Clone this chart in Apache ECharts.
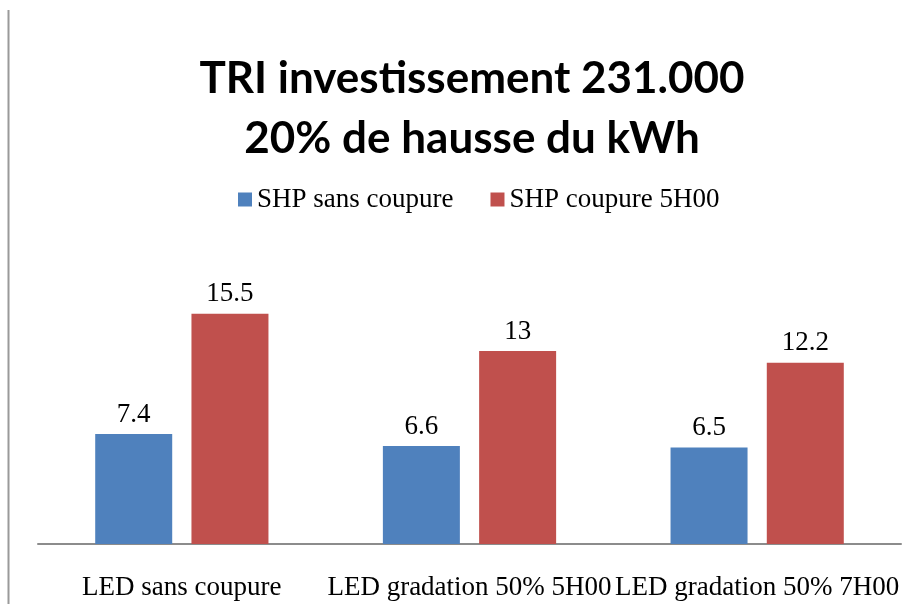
<!DOCTYPE html>
<html>
<head>
<meta charset="utf-8">
<script src="https://cdn.jsdelivr.net/npm/echarts@6/dist/echarts.min.js"></script>
<style>
html,body{margin:0;padding:0;background:#fff;}
#chart{width:918px;height:604px;}
</style>
</head>
<body>
<div id="chart"></div>
<script>
const titleLines = ['TRI investissement 231.000', '20% de hausse du kWh'];
const categories = ['LED sans coupure', 'LED gradation 50% 5H00', 'LED gradation 50% 7H00'];
const seriesNames = ['SHP sans coupure', 'SHP coupure 5H00'];
const shpSansCoupure = [7.4, 6.6, 6.5];
const shpCoupure5H00 = [15.5, 13, 12.2];
const colors = ['#4F81BD', '#C0504D'];

const serif = '"Liberation Serif", "Times New Roman", serif';
const chart = echarts.init(document.getElementById('chart'), null, {renderer: 'canvas'});

const labelStyle = {
  show: true, position: 'top', distance: 6,
  fontFamily: serif, fontSize: 27, color: '#000'
};

chart.setOption({
  animation: false,
  backgroundColor: '#ffffff',
  title: {
    text: titleLines.join('\n'),
    left: 467, top: 44, textAlign: 'center',
    textStyle: {fontFamily: 'Lato, "Open Sans", sans-serif', fontWeight: 'bold', fontSize: 44, lineHeight: 60, color: '#000'}
  },
  legend: {
    data: seriesNames,
    left: 233, top: 181,
    itemWidth: 14, itemHeight: 14, itemGap: 37,
    icon: 'rect',
    textStyle: {fontFamily: serif, fontSize: 27, color: '#000'}
  },
  graphic: [{
    type: 'line', silent: true,
    shape: {x1: 8.5, y1: 10, x2: 8.5, y2: 604},
    style: {stroke: '#9a9a9a', lineWidth: 2}
  }],
  grid: {left: 38, right: 17, top: 247, bottom: 60, containLabel: false},
  xAxis: {
    type: 'category', data: categories,
    axisLine: {show: true, lineStyle: {color: '#8c8c8c', width: 2}},
    axisTick: {show: false},
    axisLabel: {interval: 0, margin: 30, fontFamily: serif, fontSize: 27, color: '#000'}
  },
  yAxis: {
    type: 'value', min: 0, max: 20, show: false,
    splitLine: {show: false}
  },
  series: [
    {name: seriesNames[0], type: 'bar', data: shpSansCoupure, barWidth: 77, barGap: '25%',
     itemStyle: {color: colors[0]}, label: labelStyle},
    {name: seriesNames[1], type: 'bar', data: shpCoupure5H00, barWidth: 77, barGap: '25%',
     itemStyle: {color: colors[1]}, label: labelStyle}
  ]
});
</script>
</body>
</html>
